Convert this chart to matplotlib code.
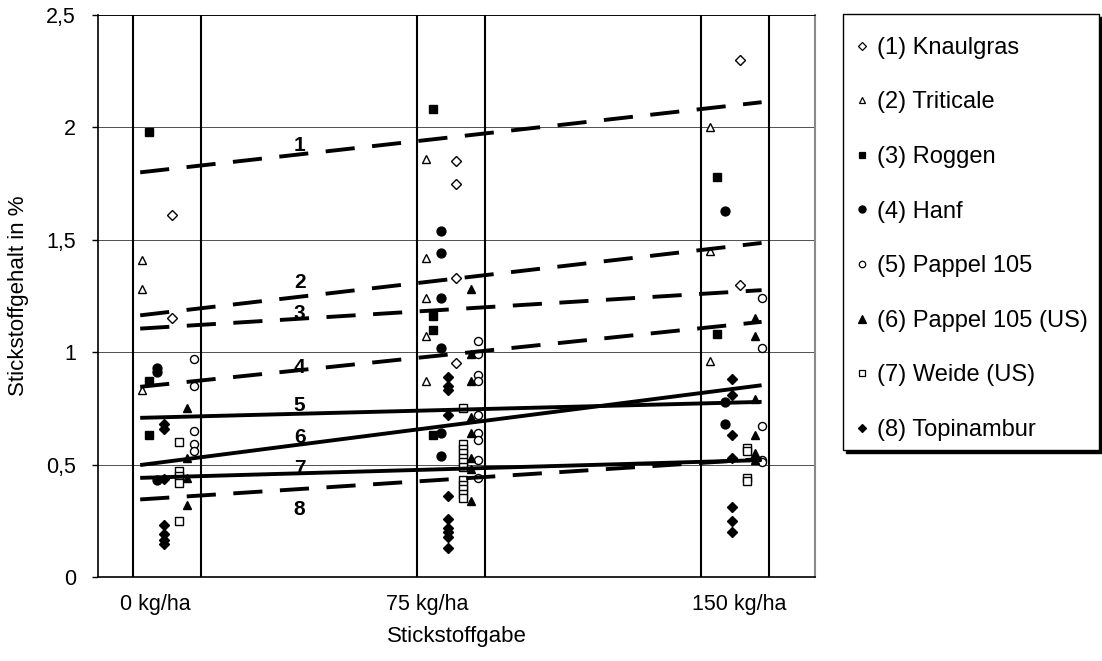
import numpy as np
import matplotlib.pyplot as plt
from matplotlib.lines import Line2D
from matplotlib.patches import Rectangle

plt.rcParams['font.family'] = ['Liberation Sans', 'DejaVu Sans']

# Stickstoffgabe in kg/ha
levels = [0, 75, 150]
level_labels = ['0 kg/ha', '75 kg/ha', '150 kg/ha']

names = ['(1) Knaulgras', '(2) Triticale', '(3) Roggen', '(4) Hanf',
         '(5) Pappel 105', '(6) Pappel 105 (US)', '(7) Weide (US)', '(8) Topinambur']

# N-Gehalt in % je Kultur, je Stufe (0 / 75 / 150 kg/ha)
knaulgras = [[1.61, 1.15], [1.85, 1.75, 1.33, 0.95], [2.30, 1.30]]
triticale = [[1.41, 1.28, 0.83], [1.86, 1.42, 1.24, 1.07, 0.87], [2.00, 1.45, 0.96]]
roggen = [[1.98, 0.87, 0.63], [2.08, 1.16, 1.10, 0.63], [1.78, 1.08]]
hanf = [[0.93, 0.91, 0.43], [1.54, 1.44, 1.24, 1.02, 0.64, 0.54], [1.63, 0.78, 0.68]]
pappel = [[0.97, 0.85, 0.65, 0.59, 0.56],
          [1.05, 0.99, 0.90, 0.87, 0.72, 0.64, 0.61, 0.52, 0.44],
          [1.24, 1.02, 0.67, 0.52, 0.51]]
pappel_us = [[0.75, 0.53, 0.44, 0.32],
             [1.28, 0.99, 0.87, 0.71, 0.64, 0.53, 0.48, 0.34],
             [1.15, 1.07, 0.79, 0.63, 0.55, 0.52]]
weide_us = [[0.60, 0.47, 0.45, 0.42, 0.25],
            [0.75, 0.59, 0.57, 0.55, 0.53, 0.51, 0.49, 0.43, 0.41, 0.39, 0.37, 0.35],
            [0.575, 0.56, 0.44, 0.425]]
topinambur = [[0.68, 0.66, 0.435, 0.23, 0.19, 0.165, 0.145],
              [0.89, 0.85, 0.83, 0.72, 0.36, 0.26, 0.22, 0.20, 0.18, 0.13],
              [0.88, 0.81, 0.63, 0.53, 0.31, 0.25, 0.20]]

# Regressionsgeraden (Wert am Anfang und Ende)
line_ids = ['1', '2', '3', '4', '5', '6', '7', '8']
line_start = [1.80, 1.164, 1.105, 0.846, 0.708, 0.498, 0.441, 0.345]
line_end = [2.112, 1.486, 1.276, 1.135, 0.779, 0.853, 0.520, 0.525]
line_dashed = [True, True, True, True, False, False, False, True]

series = [knaulgras, triticale, roggen, hanf, pappel, pappel_us, weide_us, topinambur]
# Marker: (Form, gefüllt, Versatz innerhalb der Stufe, Größe)
styles = [('D', False, 10.2, 4.6), ('^', False, 2.4, 5.6), ('s', True, 4.3, 5.6),
          ('o', True, 6.3, 6.4), ('o', False, 16.1, 5.8), ('^', True, 14.2, 6.4),
          ('s', False, 12.1, 5.6), ('D', True, 8.2, 5.2)]
band_w = 18
label_y = [1.92, 1.312, 1.172, 0.93, 0.764, 0.619, 0.483, 0.301]

W, H = 1102, 661
fig = plt.figure(figsize=(W / 100, H / 100), dpi=100)
ax = fig.add_axes([98 / W, 84 / H, 717 / W, 562 / H])

for lv in levels:
    ax.axvline(lv, color='black', lw=1.5, zorder=1)
    ax.axvline(lv + band_w, color='black', lw=1.5, zorder=1)

handles = []
for data, (mk, filled, off, ms), name in zip(series, styles, names):
    fc = 'black' if filled else 'white'
    for lv, vals in zip(levels, data):
        ax.plot([lv + off] * len(vals), vals, linestyle='none', marker=mk, ms=ms,
                mfc=fc, mec='black', mew=1.0, zorder=3)
    handles.append(Line2D([], [], linestyle='none', marker=mk, ms=ms * 0.8,
                          mfc=fc, mec='black', mew=0.9, label=name))

x0, x1 = 1.9, 166
for lid, a, b, dashed, ly in zip(line_ids, line_start, line_end, line_dashed, label_y):
    ln, = ax.plot([x0, x1], [a, b], color='black', lw=2.8, zorder=4,
                  solid_capstyle='butt')
    if dashed:
        ln.set_dashes((7.5, 4.5))
    ax.text(44, ly, lid, fontsize=15, fontweight='bold', ha='center', va='center',
            zorder=5)

ax.set_xlim(-9.24, 180.1)
ax.set_ylim(0, 2.5)
ax.set_yticks([0, 0.5, 1, 1.5, 2, 2.5])
ax.set_yticklabels(['0', '0,5', '1', '1,5', '2', '2,5'])
ax.set_xticks([5.8, 77.6, 160])
ax.set_xticklabels(level_labels)
ax.tick_params(axis='y', labelsize=15.5, length=4, width=1, pad=12)
ax.tick_params(axis='x', labelsize=15.5, length=0, pad=12)
ax.grid(axis='y', color='#333333', lw=0.6, zorder=0)
ax.set_axisbelow(True)
for s in ['left', 'bottom', 'top']:
    ax.spines[s].set_color('black')
ax.spines['left'].set_linewidth(1.2)
ax.spines['bottom'].set_linewidth(1.2)
ax.spines['top'].set_linewidth(0.6)
ax.spines['right'].set_color('#888888')
ax.spines['right'].set_linewidth(1.5)

ax.set_xlabel('Stickstoffgabe', fontsize=16, labelpad=8)
ax.set_ylabel('Stickstoffgehalt in %', fontsize=16, labelpad=12)

# Legendenrahmen mit schwarzem Schatten
bx0, by0, bx1, by1 = 843, 14, 1099, 450
fig.patches.append(Rectangle(((bx0 + 3) / W, 1 - (by1 + 3) / H), (bx1 - bx0) / W,
                             (by1 - by0) / H, transform=fig.transFigure,
                             facecolor='black', edgecolor='black', zorder=1))
fig.patches.append(Rectangle((bx0 / W, 1 - by1 / H), (bx1 - bx0) / W,
                             (by1 - by0) / H, transform=fig.transFigure,
                             facecolor='white', edgecolor='black', lw=1.0, zorder=2))

leg = fig.legend(handles=handles, loc='upper left',
                 bbox_to_anchor=(832 / W, 1 - 14 / H), borderaxespad=0,
                 fontsize=17, frameon=False,
                 labelspacing=1.38, handlelength=0.6, handletextpad=0.35,
                 borderpad=0.97)
leg.set_zorder(5)

fig.savefig('out.png', dpi=100)
